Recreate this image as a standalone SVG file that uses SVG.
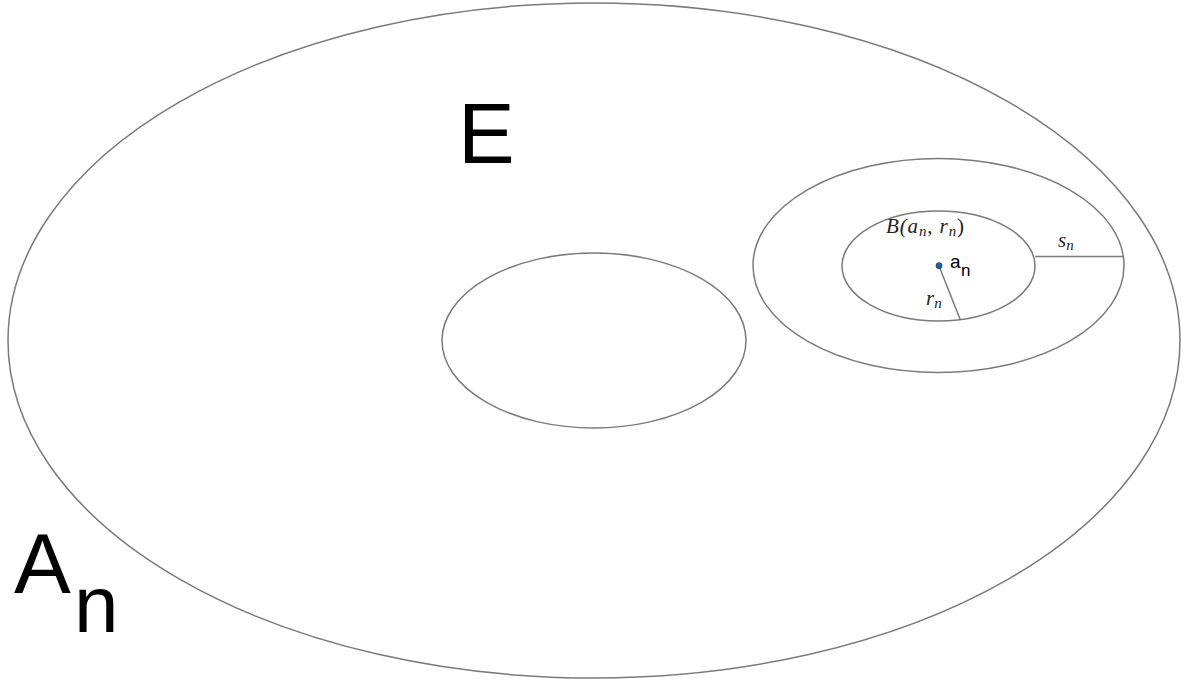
<svg xmlns="http://www.w3.org/2000/svg" width="1188" height="684" viewBox="0 0 1188 684">
<style>
.sh{fill:none;stroke:#7a7a7a;stroke-width:1.5}
.sans{font-family:"Liberation Sans",Arial,sans-serif;fill:#000}
.math{font-family:"Liberation Serif","Times New Roman",serif;font-style:italic;fill:#222}
</style>
<rect width="1188" height="684" fill="#fff"/>
<g id="outer"><ellipse class="sh" cx="594" cy="340.5" rx="586" ry="337.5"/></g>
<g id="E-set"><ellipse class="sh" cx="594" cy="340.5" rx="152" ry="87.5"/></g>
<g id="outer-ball"><ellipse class="sh" cx="938.5" cy="265.5" rx="185.5" ry="107"/></g>
<g id="ball"><ellipse class="sh" cx="938.5" cy="266" rx="96.5" ry="55"/></g>
<g id="connectors">
<line class="sh" x1="939" y1="266" x2="960" y2="319"/>
<line class="sh" x1="1035" y1="256.5" x2="1124" y2="256.5"/>
</g>
<g id="center"><circle cx="939" cy="265.7" r="3" fill="#1565c0" stroke="#1a3560" stroke-width="0.8"/></g>
<g id="labels">
<text class="sans" x="458" y="163" font-size="85">E</text>
<text class="sans" x="14" y="593" font-size="85">A</text>
<text class="sans" x="74" y="632" font-size="80">n</text>
<text class="sans" x="950" y="268" font-size="19">a</text>
<text class="sans" x="961" y="276" font-size="17">n</text>
<text class="math" x="886" y="233" font-size="21" textLength="78" lengthAdjust="spacing">B(a<tspan font-size="15" dy="3">n</tspan><tspan dy="-3" font-style="normal">, </tspan>r<tspan font-size="15" dy="3">n</tspan><tspan dy="-3" font-style="normal">)</tspan></text>
<text class="math" x="1058" y="247" font-size="21">s<tspan font-size="15" dy="3">n</tspan></text>
<text class="math" x="926" y="305" font-size="21">r<tspan font-size="15" dy="3">n</tspan></text>
</g>
</svg>
